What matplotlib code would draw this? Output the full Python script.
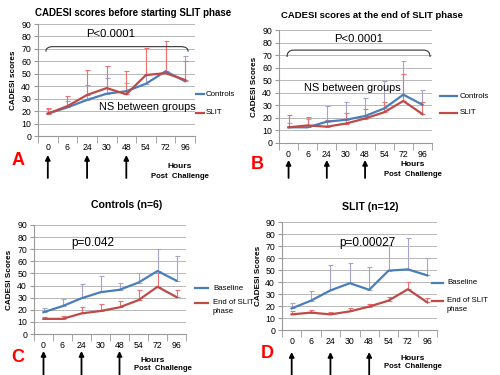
import matplotlib
matplotlib.use('Agg')
import matplotlib.pyplot as plt
import numpy as np
from matplotlib.path import Path
from matplotlib.patches import PathPatch
from matplotlib.lines import Line2D

plt.rcParams['font.family'] = ['Liberation Sans', 'DejaVu Sans']

hours = ['0', '6', '24', '30', '48', '54', '72', '96']

# panel A - before SLIT phase
a_ctrl = [18, 23, 29, 34, 36, 42, 52, 44]
a_ctrl_top = [21.5, 28, 41, 47, 42.5, 50, 70, 64.5]
a_slit = [18, 24, 33, 38.5, 33.5, 49, 50.5, 45]
a_slit_top = [22.5, 32, 53, 56, 52, 71, 76.5, 60]

# panel B - end of SLIT phase
b_ctrl = [12.5, 12.5, 17, 18.5, 21.5, 27.5, 38.5, 30.5]
b_ctrl_top = [16, 19, 29.5, 33, 35.5, 49, 65, 42]
b_slit = [12.5, 14, 13, 15.5, 19.5, 24.5, 33.5, 23]
b_slit_top = [22, 21, 18.5, 23.5, 27, 33, 55, 33]

# panel C - controls (n=6)
c_base = [18, 23, 29.5, 34.5, 36.5, 42.5, 52, 44]
c_base_top = [21.5, 28.5, 41.5, 47.5, 42.5, 50, 70, 64]
c_end = [12.5, 12.5, 17, 19, 22, 28, 39, 30.5]
c_end_top = [14, 15, 22.5, 25, 27.5, 36.5, 50, 36]

# panel D - SLIT (n=12)
d_base = [18, 24.5, 33, 39, 33.5, 49.5, 50.5, 45.5]
d_base_top = [22.5, 32.5, 54, 56, 52.5, 71, 77, 60]
d_end = [13, 14.5, 13, 15.5, 19.5, 24.5, 34, 23]
d_end_top = [15.5, 16.5, 15, 18, 21.5, 27.5, 40, 26.5]

BLUE = '#4a7ebb'
RED = '#be4b48'
BLUE_ERR = '#a4a4cf'
RED_ERR = '#f07070'

W, H = 500, 375
fig = plt.figure(figsize=(5, 3.75), dpi=100)


def fx(x):
    return x / W


def fy(y):
    return 1 - y / H


def make_ax(left, right, top, bottom):
    ax = fig.add_axes([fx(left), fy(bottom), (right - left) / W, (bottom - top) / H])
    ax.set_xlim(-0.5, 7.5)
    ax.set_ylim(0, 90)
    ax.set_yticks(range(0, 91, 10))
    ax.set_xticks(range(len(hours)))
    ax.set_xticklabels(hours)
    ax.set_xticks(np.arange(-0.5, 8, 1), minor=True)
    ax.tick_params(axis='x', which='major', length=0, labelsize=6.3, pad=5)
    ax.tick_params(axis='x', which='minor', length=5, color='#999999')
    ax.tick_params(axis='y', length=3, labelsize=6.3, color='#999999', pad=2)
    ax.grid(axis='y', color='#b8b8b8', lw=0.7)
    ax.set_axisbelow(True)
    for s in ['top', 'right']:
        ax.spines[s].set_visible(False)
    for s in ['left', 'bottom']:
        ax.spines[s].set_color('#999999')
    ax.box = (top, bottom)
    return ax


def series(ax, y, top, color, ecolor):
    x = np.arange(len(y))
    y = np.array(y, dtype=float)
    top = np.array(top, dtype=float)
    ax.errorbar(x, y, yerr=[np.zeros_like(y), top - y], fmt='none', ecolor=ecolor,
                elinewidth=0.8, capsize=1.8, capthick=0.8, zorder=2)
    ax.plot(x, y, color=color, lw=1.6, zorder=3)


def brace(ax, x0, x1, ytop, yend, r=0.35):
    verts = [(x0, yend), (x0, ytop), (x0 + r, ytop), (x1 - r, ytop), (x1, ytop), (x1, yend)]
    codes = [Path.MOVETO, Path.CURVE3, Path.CURVE3, Path.LINETO, Path.CURVE3, Path.CURVE3]
    ax.add_patch(PathPatch(Path(verts, codes), fill=False, lw=0.8, edgecolor='#333333',
                           clip_on=False, zorder=4))


def arrows(ax, y_top, y_bot):
    top, bottom = ax.box
    h = bottom - top
    for i in [0, 2, 4]:
        ax.annotate('', xy=(i, (bottom - y_top) / h), xytext=(i, (bottom - y_bot) / h),
                    xycoords=('data', 'axes fraction'), annotation_clip=False,
                    arrowprops=dict(arrowstyle='-|>', color='black', lw=1.3,
                                    mutation_scale=7, shrinkA=0, shrinkB=0))


def legend(x0, x1, xt, y1, y2, lab1, lab2, two_line=False):
    fig.add_artist(Line2D([fx(x0), fx(x1)], [fy(y1)] * 2, color=BLUE, lw=1.6))
    fig.add_artist(Line2D([fx(x0), fx(x1)], [fy(y2)] * 2, color=RED, lw=1.6))
    fig.text(fx(xt), fy(y1), lab1, fontsize=5.7, va='center')
    if two_line:
        fig.text(fx(xt), fy(y2 - 4), lab2, fontsize=5.6, va='top', linespacing=1.45)
    else:
        fig.text(fx(xt), fy(y2), lab2, fontsize=5.7, va='center')


def hours_label(x, y1, y2, x2=None):
    fig.text(fx(x), fy(y1), 'Hours', fontsize=6, weight='bold', ha='center', va='center')
    fig.text(fx(x if x2 is None else x2), fy(y2), 'Post  Challenge', fontsize=5.6,
             weight='bold', ha='center', va='center')


# ---- A
axA = make_ax(38, 195, 24, 136)
series(axA, a_ctrl, a_ctrl_top, BLUE, BLUE_ERR)
series(axA, a_slit, a_slit_top, RED, RED_ERR)
brace(axA, -0.1, 7.15, 71.8, 67.8)
axA.text(3.2, 82, 'P<0.0001', fontsize=8.2, ha='center', va='center')
axA.text(2.6, 23, 'NS between groups', fontsize=7.9, ha='left', va='center', clip_on=False, zorder=5)
axA.set_ylabel('CADESI scores', fontsize=5.9, weight='bold', labelpad=3)
fig.text(fx(133), fy(13), 'CADESI scores before starting SLIT phase', fontsize=7,
         weight='bold', ha='center', va='center')
legend(196, 204, 206, 94, 113, 'Controls', 'SLIT')
arrows(axA, 155, 178)
hours_label(180, 166, 176)
fig.text(fx(18), fy(160), 'A', fontsize=13, weight='bold', color='red', ha='center', va='center')

# ---- B
axB = make_ax(279, 432, 30, 143)
series(axB, b_ctrl, b_ctrl_top, BLUE, BLUE_ERR)
series(axB, b_slit, b_slit_top, RED, RED_ERR)
brace(axB, -0.08, 7.4, 74, 68.5)
axB.text(3.64, 83, 'P<0.0001', fontsize=8.2, ha='center', va='center')
axB.text(0.81, 43.8, 'NS between groups', fontsize=7.9, ha='left', va='center', clip_on=False, zorder=5)
axB.set_ylabel('CADESI Scores', fontsize=5.9, weight='bold', labelpad=3)
fig.text(fx(372), fy(15), 'CADESI scores at the end of SLIT phase', fontsize=6.8,
         weight='bold', ha='center', va='center')
legend(440, 457, 460, 96, 113, 'Controls', 'SLIT')
arrows(axB, 160, 178)
hours_label(413, 165, 174)
fig.text(fx(257), fy(165), 'B', fontsize=13, weight='bold', color='red', ha='center', va='center')

# ---- C
axC = make_ax(34, 186, 225, 334)
series(axC, c_base, c_base_top, BLUE, BLUE_ERR)
series(axC, c_end, c_end_top, RED, RED_ERR)
axC.text(2.6, 75, 'p=0.042', fontsize=8.5, ha='center', va='center')
axC.set_ylabel('CADESI Scores', fontsize=5.9, weight='bold', labelpad=3)
fig.text(fx(127), fy(205), 'Controls (n=6)', fontsize=7.6, weight='bold', ha='center', va='center')
legend(195, 208, 213, 288, 303, 'Baseline', 'End of SLIT\nphase', two_line=True)
arrows(axC, 351, 375)
hours_label(153, 360, 369, x2=163)
fig.text(fx(18), fy(357), 'C', fontsize=13, weight='bold', color='red', ha='center', va='center')

# ---- D
axD = make_ax(282, 437, 222, 330)
series(axD, d_base, d_base_top, BLUE, BLUE_ERR)
series(axD, d_end, d_end_top, RED, RED_ERR)
axD.text(3.9, 72.5, 'p=0.00027', fontsize=8.5, ha='center', va='center')
axD.set_ylabel('CADESI Scores', fontsize=5.9, weight='bold', labelpad=2)
fig.text(fx(370), fy(207), 'SLIT (n=12)', fontsize=7.6, weight='bold', ha='center', va='center')
legend(432, 443, 447, 283, 301, 'Baseline', 'End of SLIT\nphase', two_line=True)
arrows(axD, 352, 375)
hours_label(413, 358, 367)
fig.text(fx(267), fy(354), 'D', fontsize=13, weight='bold', color='red', ha='center', va='center')

fig.savefig('out.png', dpi=100)
